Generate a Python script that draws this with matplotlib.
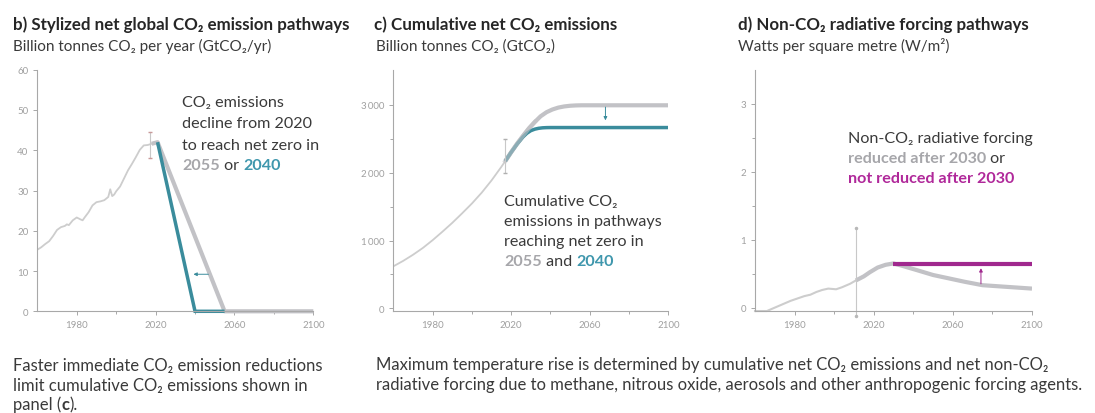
import matplotlib
matplotlib.use("Agg")
import matplotlib.pyplot as plt
from matplotlib.ticker import FixedLocator, FuncFormatter

plt.rcParams['font.family'] = ['Lato', 'Noto Sans', 'DejaVu Sans']

# ---------------- data ----------------
# panel b: net global CO2 emissions (GtCO2/yr)
hist_years = [1960, 1962, 1964, 1966, 1968, 1970, 1972, 1974, 1975, 1976, 1978, 1980,
              1982, 1983, 1984, 1986, 1988, 1990, 1992, 1994, 1996, 1997, 1998, 1999,
              2000, 2002, 2004, 2006, 2008, 2010, 2012, 2014, 2016, 2018]
hist_emis = [15.3, 15.9, 16.7, 17.4, 18.7, 20.2, 20.9, 21.2, 21.6, 21.4, 22.6, 23.3,
             22.8, 22.6, 23.3, 24.6, 26.3, 27.1, 27.3, 27.6, 28.4, 30.3, 28.6, 29.0,
             29.8, 31.0, 33.0, 35.0, 36.6, 38.3, 40.1, 41.2, 41.3, 41.6]
path2055_years = [2018, 2021, 2055, 2100]
path2055_emis = [41.6, 42.0, 0.0, 0.0]
path2040_years = [2021, 2040, 2055]
path2040_emis = [42.0, 0.0, 0.0]
err_b_year = 2017
err_b_range = [38.0, 44.6]

# panel c: cumulative net CO2 emissions (GtCO2)
cum_years = [1960, 1965, 1970, 1975, 1980, 1985, 1990, 1995, 2000, 2005, 2010, 2015, 2017]
cum_hist = [620, 700, 790, 890, 1005, 1130, 1260, 1400, 1545, 1705, 1885, 2085, 2170]
cum2055_years = [2017, 2020, 2023, 2026, 2029, 2032, 2035, 2038, 2041, 2044, 2047, 2050, 2053, 2056, 2100]
cum2055 = [2170, 2300, 2425, 2540, 2650, 2745, 2830, 2890, 2930, 2958, 2975, 2985, 2990, 2992, 2992]
cum2040_years = [2017, 2020, 2023, 2026, 2028, 2030, 2032, 2034, 2036, 2038, 2040, 2100]
cum2040 = [2170, 2300, 2420, 2525, 2580, 2618, 2640, 2653, 2660, 2663, 2664, 2664]
err_c_year = 2017
err_c_range = [2000, 2490]

# panel d: non-CO2 radiative forcing (W/m2)
nco2_years = [1960, 1966, 1970, 1974, 1978, 1981, 1985, 1988, 1991, 1994, 1997, 2001,
              2004, 2008, 2011]
nco2_hist = [-0.05, -0.05, 0.0, 0.05, 0.10, 0.13, 0.17, 0.19, 0.23, 0.26, 0.28, 0.27,
             0.30, 0.35, 0.40]
nco2_red_years = [2011, 2015, 2018, 2022, 2026, 2030, 2035, 2042, 2050, 2058, 2066, 2075, 2085, 2100]
nco2_red = [0.40, 0.46, 0.52, 0.59, 0.63, 0.65, 0.61, 0.55, 0.48, 0.43, 0.38, 0.33, 0.31, 0.28]
nco2_flat_years = [2030, 2100]
nco2_flat = [0.645, 0.645]
err_d_year = 2011
err_d_range = [-0.12, 1.17]

x_major = [1980, 2020, 2060, 2100]
x_minor = [2000, 2040, 2080]

# ---------------- style ----------------
W, H = 1095, 414
fig = plt.figure(figsize=(W / 100, H / 100), dpi=100)

DARK = '#3a3a3a'
GREY_TXT = '#a6a6aa'
TEAL_TXT = '#3f97ad'
TEAL = '#3a8c9c'
MAG_TXT = '#b0289a'
PURPLE = '#a0288e'
GREY_LINE = '#c2c2c6'
HIST_LINE = '#cdcdcd'
AX_COL = '#a8a8a8'
TICK_TXT = '#a0a0a0'


def make_ax(left_px, right_px, top_px=70.7, bottom_px=312.3):
    ax = fig.add_axes([left_px / W, 1 - bottom_px / H,
                       (right_px - left_px) / W, (bottom_px - top_px) / H])
    for s in ['top', 'right']:
        ax.spines[s].set_visible(False)
    for s in ['left', 'bottom']:
        ax.spines[s].set_color(AX_COL)
        ax.spines[s].set_linewidth(0.8)
    ax.tick_params(which='both', direction='out', color=AX_COL, labelcolor=TICK_TXT,
                   labelsize=7, width=0.7)
    ax.tick_params(which='major', length=3)
    ax.tick_params(which='minor', length=2.5)
    ax.set_xlim(1960, 2100)
    ax.xaxis.set_major_locator(FixedLocator(x_major))
    ax.xaxis.set_minor_locator(FixedLocator(x_minor))
    ax.set_facecolor('none')
    return ax


# panel b
axb = make_ax(37.3, 313.3)
axb.set_ylim(0, 60)
axb.yaxis.set_major_locator(FixedLocator([0, 10, 20, 30, 40, 50, 60]))
axb.plot(hist_years, hist_emis, color=HIST_LINE, lw=1.3, solid_joinstyle='round')
axb.plot(path2055_years, path2055_emis, color=GREY_LINE, lw=3.0, solid_joinstyle='round',
         clip_on=False, solid_capstyle='butt')
axb.plot(path2040_years, path2040_emis, color=TEAL, lw=2.5, solid_joinstyle='miter',
         clip_on=False, solid_capstyle='butt')
axb.plot([err_b_year, err_b_year], err_b_range, color='#c8c8c8', lw=0.8)
axb.plot([err_b_year] * 2, err_b_range, ls='none', marker='_', ms=3, mew=1, color='#c99a9a')
axb.annotate('', xy=(2039.2, 9.2), xytext=(2046.8, 9.2),
             arrowprops=dict(arrowstyle='-|>', lw=0.7, color=TEAL, mutation_scale=5,
                             shrinkA=0, shrinkB=0))

# panel c
axc = make_ax(393.3, 668.3)
axc.set_ylim(-42, 3516)
axc.yaxis.set_major_locator(FixedLocator([0, 1000, 2000, 3000]))
axc.yaxis.set_minor_locator(FixedLocator([500, 1500, 2500]))
axc.yaxis.set_major_formatter(FuncFormatter(
    lambda v, p: f"{int(v):,}".replace(',', '\u2009')))
axc.plot(cum_years, cum_hist, color=HIST_LINE, lw=1.3)
axc.plot(cum2055_years, cum2055, color=GREY_LINE, lw=3.0, solid_capstyle='butt')
axc.plot(cum2040_years, cum2040, color=TEAL, lw=2.5, solid_capstyle='butt')
axc.plot(cum2055_years[:6], cum2055[:6], color=GREY_LINE, lw=3.0, alpha=0.6)
axc.plot([err_c_year, err_c_year], err_c_range, color='#c8c8c8', lw=0.8)
axc.plot([err_c_year] * 2, err_c_range, ls='none', marker='_', ms=3, mew=1, color='#b0b0b0')
axc.annotate('', xy=(2068, 2770), xytext=(2068, 2965),
             arrowprops=dict(arrowstyle='-|>', lw=0.7, color=TEAL, mutation_scale=5,
                             shrinkA=0, shrinkB=0))

# panel d
axd = make_ax(755, 1032)
axd.set_ylim(-0.054, 3.5)
axd.yaxis.set_major_locator(FixedLocator([0, 1, 2, 3]))
axd.yaxis.set_minor_locator(FixedLocator([0.5, 1.5, 2.5]))
axd.plot(nco2_years, nco2_hist, color=HIST_LINE, lw=1.5, clip_on=False)
axd.plot(nco2_red_years, nco2_red, color=GREY_LINE, lw=3.0, solid_capstyle='butt')
axd.plot(nco2_flat_years, nco2_flat, color=PURPLE, lw=3.0, solid_capstyle='butt')
axd.plot([err_d_year, err_d_year], err_d_range, color='#c8c8c8', lw=0.8, clip_on=False)
axd.plot([err_d_year] * 2, err_d_range, ls='none', marker='o', ms=1.5, color='#b8b8b8',
         clip_on=False)
axd.annotate('', xy=(2074.2, 0.58), xytext=(2074.2, 0.35),
             arrowprops=dict(arrowstyle='-|>', lw=0.7, color=PURPLE, mutation_scale=5,
                             shrinkA=0, shrinkB=0))

# ---------------- text ----------------
renderer = fig.canvas.get_renderer()


def width_of(s, size, weight):
    t1 = fig.text(0, 0, s + 'x', fontsize=size, fontweight=weight)
    t2 = fig.text(0, 0, 'x', fontsize=size, fontweight=weight)
    w = t1.get_window_extent(renderer).width - t2.get_window_extent(renderer).width
    t1.remove()
    t2.remove()
    return w


def rich(x_px, y_px, pieces, size):
    x = x_px
    for s, color, weight in pieces:
        fig.text(x / W, 1 - y_px / H, s, color=color, fontweight=weight, fontsize=size,
                 va='baseline', ha='left')
        x += width_of(s, size, weight)


def plain(x_px, y_px, s, size, color=DARK, weight='normal'):
    fig.text(x_px / W, 1 - y_px / H, s, color=color, fontweight=weight, fontsize=size,
             va='baseline', ha='left')


TS, SS, BS, FS = 12.2, 11.0, 11.6, 12.0
# titles
plain(13, 30, 'b) Stylized net global CO₂ emission pathways', TS, '#262626', 'bold')
plain(13, 50.5, 'Billion tonnes CO₂ per year (GtCO₂/yr)', SS)
plain(374, 30, 'c) Cumulative net CO₂ emissions', TS, '#262626', 'bold')
plain(375.5, 50.5, 'Billion tonnes CO₂ (GtCO₂)', SS)
plain(738, 30, 'd) Non-CO₂ radiative forcing pathways', TS, '#262626', 'bold')
plain(738, 50.5, 'Watts per square metre (W/m²)', SS)

# panel b annotation
plain(182, 107, 'CO₂ emissions', BS)
plain(182, 128.5, 'decline from 2020', BS)
plain(182, 150, 'to reach net zero in', BS)
rich(182, 170.5, [('2055', GREY_TXT, 'bold'), (' or ', DARK, 'normal'),
                  ('2040', TEAL_TXT, 'bold')], BS)

# panel c annotation
plain(504, 206.5, 'Cumulative CO₂', BS)
plain(504, 226.5, 'emissions in pathways', BS)
plain(504, 246.5, 'reaching net zero in', BS)
rich(504, 266.5, [('2055', GREY_TXT, 'bold'), (' and ', DARK, 'normal'),
                  ('2040', TEAL_TXT, 'bold')], BS)

# panel d annotation
plain(848, 143, 'Non-CO₂ radiative forcing', BS)
rich(848, 163, [('reduced after 2030', GREY_TXT, 'bold'), (' or', DARK, 'normal')], BS)
plain(848, 183, 'not reduced after 2030', BS, MAG_TXT, 'bold')

# bottom captions
plain(13, 371, 'Faster immediate CO₂ emission reductions', FS)
plain(13, 391, 'limit cumulative CO₂ emissions shown in', FS)
rich(13, 410, [('panel (', DARK, 'normal'), ('c', DARK, 'bold'), (').', DARK, 'normal')], FS)
plain(376, 370.5, 'Maximum temperature rise is determined by cumulative net CO₂ emissions and net non-CO₂', FS)
plain(376, 390.5, 'radiative forcing due to methane, nitrous oxide, aerosols and other anthropogenic forcing agents.', FS)

fig.savefig('out.png', dpi=100)
